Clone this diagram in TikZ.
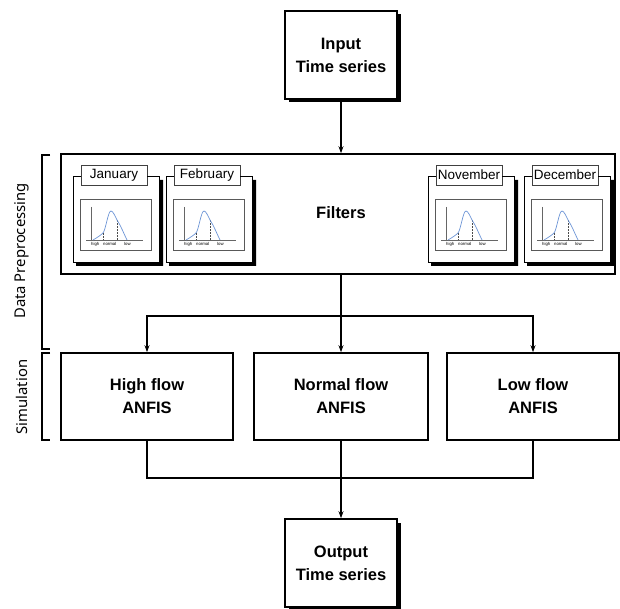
\documentclass[tikz,border=0pt]{standalone}
\usepackage{fontspec}
\setmainfont{Liberation Sans}
\newfontfamily\sidefont{Noto Sans}
\usetikzlibrary{arrows.meta,shadows}
\definecolor{curveblue}{RGB}{110,150,215}
\tikzset{
  bigbox/.style={draw, line width=1.6pt, fill=white, inner sep=0pt, align=center,
    font=\fontsize{16.5}{23}\selectfont\bfseries},
  shadowbox/.style={bigbox, drop shadow={shadow xshift=3.5pt, shadow yshift=-3.5pt, fill=black, opacity=1}},
  conn/.style={line width=1.3pt},
  arr/.style={conn, -{Stealth[length=7pt,width=5pt]}},
  brack/.style={line width=1.3pt},
  sidelabel/.style={font=\sidefont\fontsize{14.8}{16}\selectfont, rotate=90},
  monthlabel/.style={draw=black!75, line width=0.6pt, fill=white, minimum width=66pt, minimum height=20pt,
    inner sep=0pt, font=\fontsize{13.5}{15}\selectfont},
  tinylabel/.style={font=\fontsize{4.3}{5}\selectfont, inner sep=0pt, anchor=west}
}
\newcommand\monthcard[3]{%
  \begin{scope}[shift={(#1,0)}]
    \fill[black] (86,180) -- (90,180) -- (90,266) -- (3,266) -- (3,262) -- (86,262) -- cycle;
    \fill[white] (0,176) rectangle (86,262);
    \node[monthlabel] (#2) at (41,175) {#3};
    \draw[line width=0.8pt] (#2.west |- 0,176) -- (0,176) -- (0,262) -- (86,262) -- (86,176) -- (#2.east |- 0,176);
    \draw[gray!70!black, line width=0.6pt] (7,199) rectangle (78,250);
    \draw[gray!80!black, line width=0.5pt] (18,207) -- (18,240);
    \draw[gray!80!black, line width=0.5pt] (13,240) -- (70,240);
    \draw[black!70, densely dotted, line width=0.5pt] (30,233) -- (30,240);
    \draw[black!70, densely dotted, line width=0.5pt] (44,220) -- (44,240);
    \draw[curveblue, line width=0.7pt]
      (20,240) .. controls (25,237) and (28,235) .. (30,233)
      .. controls (33,229) and (35,211) .. (38,211)
      .. controls (40,211) and (42,216) .. (44,220)
      .. controls (48,226) and (51,234) .. (54,240);
    \node[tinylabel] at (18,244) {high};
    \node[tinylabel] at (30,244) {normal};
    \node[tinylabel] at (51,244) {low};
  \end{scope}}
\begin{document}
\begin{tikzpicture}[x=1pt,y=-1pt]
\useasboundingbox (0,0) rectangle (620,609);
% input
\node[shadowbox, minimum width=112pt, minimum height=88pt] (in) at (341,55) {Input\\Time series};
% filters
\node[bigbox, minimum width=554pt, minimum height=120pt] (filters) at (338,214) {};
\node[font=\fontsize{16.5}{20}\selectfont\bfseries] (ftext) at (341,213) {Filters};
\monthcard{73}{jan}{January}
\monthcard{166}{feb}{February}
\monthcard{428}{nov}{November}
\monthcard{524}{dec}{December}
% simulation boxes
\node[bigbox, minimum width=172pt, minimum height=87pt] (high) at (147,396.5) {High flow\\ANFIS};
\node[bigbox, minimum width=174pt, minimum height=87pt] (normal) at (341,396.5) {Normal flow\\ANFIS};
\node[bigbox, minimum width=172pt, minimum height=87pt] (low) at (533,396.5) {Low flow\\ANFIS};
% output
\node[shadowbox, minimum width=112pt, minimum height=88pt] (out) at (341,563) {Output\\Time series};
% connectors
\coordinate (split) at (341,316);
\coordinate (merge) at (341,478);
\draw[arr] (in.south) -- (filters.north -| in.south);
\draw[conn] (filters.south -| split) -- (split);
\draw[arr] (split) -| (high.north);
\draw[arr] (split) -| (low.north);
\draw[arr] (split) -- (normal.north);
\draw[conn] (high.south) |- (merge);
\draw[conn] (low.south) |- (merge);
\draw[arr] (normal.south) -- (out.north);
% brackets
\coordinate (b1t) at (50,155);
\coordinate (b1b) at (50,349);
\coordinate (b2t) at (50,353);
\coordinate (b2b) at (50,440);
\draw[brack] (b1t) -- ++(-8,0) |- (b1b);
\draw[brack] (b2t) -- ++(-8,0) |- (b2b);
\node[sidelabel] (dp) at (22,251) {Data Preprocessing};
\node[sidelabel] (sim) at (22,397) {Simulation};
\end{tikzpicture}
\end{document}
